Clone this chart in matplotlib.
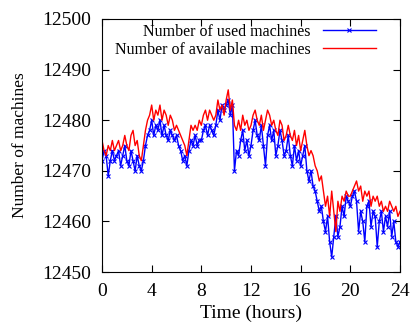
import matplotlib
matplotlib.use("Agg")
import matplotlib.pyplot as plt
import numpy as np

plt.rcParams['font.family'] = ['Liberation Serif', 'DejaVu Serif']

# samples every 10 minutes, 0..24 h
hours = np.arange(0, 24 + 1e-9, 1 / 6)

available = [
    12476, 12474, 12473, 12475, 12474, 12476,
    12474, 12475, 12476, 12474, 12475, 12477,
    12475, 12474, 12477, 12478, 12475, 12476,
    12473, 12472, 12475, 12478, 12480, 12481,
    12483, 12480, 12482, 12481, 12483, 12480,
    12482, 12481, 12479, 12481, 12480, 12478,
    12479, 12478, 12477, 12476, 12475, 12473,
    12476, 12479, 12478, 12479, 12478, 12480,
    12479, 12481, 12482, 12480, 12482, 12481,
    12480, 12481, 12484, 12482, 12483, 12481,
    12484, 12486, 12482, 12484, 12479, 12478,
    12480, 12478, 12481, 12479, 12480, 12478,
    12479, 12481, 12482, 12480, 12479, 12481,
    12478, 12480, 12482, 12481, 12479, 12480,
    12478, 12477, 12480, 12479, 12476, 12477,
    12479, 12477, 12476, 12478, 12475, 12477,
    12474, 12476, 12478, 12475, 12473, 12474,
    12473, 12471, 12470, 12468, 12469, 12466,
    12463, 12465, 12461, 12466, 12462, 12458,
    12464, 12462, 12465, 12464, 12466, 12465,
    12465, 12466, 12467, 12468, 12466, 12467,
    12464, 12466, 12465, 12466, 12463, 12465,
    12464, 12465, 12463, 12464, 12462, 12463,
    12462, 12464, 12463, 12462, 12463, 12461,
    12462,
]

used = [
    12472, 12474, 12473, 12469, 12472, 12474,
    12472, 12473, 12474, 12471, 12473, 12475,
    12472, 12471, 12474, 12472, 12470, 12473,
    12471, 12470, 12472, 12475, 12477, 12478,
    12480, 12477, 12479, 12478, 12480, 12477,
    12479, 12477, 12476, 12478, 12477, 12476,
    12477, 12475, 12474, 12472, 12473, 12471,
    12474, 12476, 12475, 12477, 12475, 12476,
    12476, 12478, 12479, 12477, 12479, 12478,
    12477, 12479, 12482, 12480, 12483, 12482,
    12483, 12484, 12481, 12483, 12470, 12474,
    12473, 12476, 12478, 12474, 12476, 12473,
    12475, 12478, 12480, 12477, 12476, 12479,
    12475, 12471, 12477, 12479, 12476, 12478,
    12473, 12475, 12478, 12476, 12473, 12474,
    12477, 12473, 12471, 12475, 12472, 12474,
    12471, 12473, 12475, 12470, 12468, 12470,
    12467, 12466, 12464, 12462, 12463, 12460,
    12458, 12461, 12456, 12453, 12457, 12461,
    12457, 12459, 12463, 12461, 12465, 12464,
    12463, 12465, 12466, 12464, 12458, 12462,
    12460, 12456, 12463, 12464, 12459, 12462,
    12461, 12455, 12460, 12462, 12458, 12461,
    12459, 12462, 12457, 12460, 12456, 12455,
    12456,
]

xticks = [0, 4, 8, 12, 16, 20, 24]
yticks = [12450, 12460, 12470, 12480, 12490, 12500]

fig = plt.figure(figsize=(4.13, 3.22), dpi=100)
ax = fig.add_axes([0.247, 0.155, 0.7215, 0.786])

ax.plot(hours, used, color='#0000ff', lw=1, marker='x', ms=3, mew=0.8,
        label='Number of used machines')
ax.plot(hours, available, color='#ff0000', lw=1,
        label='Number of available machines')

ax.set_xlim(0, 24)
ax.set_ylim(12450, 12500)
ax.set_xticks(xticks)
ax.set_yticks(yticks)
ax.ticklabel_format(useOffset=False, style='plain', axis='y')
ax.tick_params(direction='in', top=True, right=True, length=5, labelsize=14)
ax.tick_params(axis='x', pad=8)
ax.tick_params(axis='y', pad=8)
ax.set_xlabel('Time (hours)', fontsize=14, labelpad=3)
ax.set_ylabel('Number of machines', fontsize=12.5, labelpad=10)

leg = ax.legend(loc='upper right', bbox_to_anchor=(0.919, 0.98), frameon=False,
                markerfirst=False, numpoints=1, fontsize=11.5, handlelength=3.3,
                handletextpad=0.8, borderpad=0, borderaxespad=0, labelspacing=0.1)
for t in leg.get_texts():
    t.set_ha('right')

fig.savefig('out.png', dpi=100)
